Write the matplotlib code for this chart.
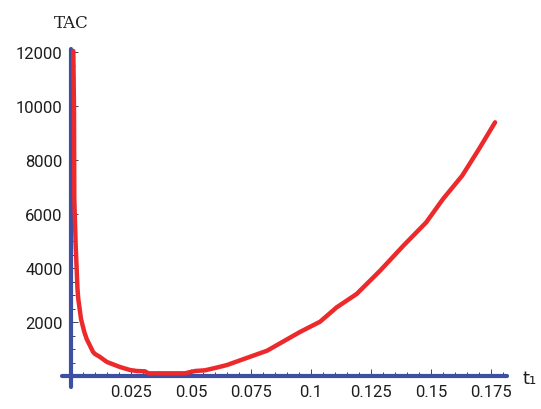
import matplotlib
matplotlib.use("Agg")
import matplotlib.pyplot as plt
import numpy as np

# TAC against t1
t1 = [0.00096, 0.00125, 0.00138, 0.00196, 0.00238, 0.0027, 0.00304, 0.00417,
      0.00554, 0.00654, 0.0092, 0.01, 0.0121, 0.0142, 0.015, 0.0204, 0.0246,
      0.0275, 0.0308, 0.0322, 0.0475, 0.0517, 0.0558, 0.06, 0.065, 0.0817,
      0.0954, 0.1038, 0.1107, 0.119, 0.1288, 0.1385, 0.148, 0.155, 0.163,
      0.170, 0.1767]
tac = [12040, 9890, 6560, 4815, 3926, 3222, 2852, 2111,
       1630, 1370, 889, 815, 704, 567, 518, 333, 222,
       185, 174, 100, 100, 185, 211, 296, 407, 937,
       1630, 2012, 2543, 3037, 3901, 4827, 5690, 6555, 7420,
       8408, 9396]

xticks = [0.025, 0.05, 0.075, 0.1, 0.125, 0.15, 0.175]
xlabels = ["0.025", "0.05", "0.075", "0.1", "0.125", "0.15", "0.175"]
yticks = [2000, 4000, 6000, 8000, 10000, 12000]

blue = "#3d4fa2"
red = "#ec2a2c"
txt = "#1e1e1e"

plt.rcParams["font.family"] = ["Roboto", "DejaVu Sans"]

fig = plt.figure(figsize=(5.41, 4.10), dpi=100)
ax = fig.add_axes([0, 0, 1, 1])
ax.set_xlim(-71 / 2400, 470 / 2400)
ax.set_ylim(-33 * 2000 / 54, 377 * 2000 / 54)
ax.patch.set_visible(False)

ax.plot(t1, tac, color=red, lw=3.2, zorder=3, solid_joinstyle="round",
        solid_capstyle="round")

for s in ["top", "right"]:
    ax.spines[s].set_visible(False)
ax.spines["left"].set_position(("data", 0))
ax.spines["bottom"].set_position(("data", 0))
ax.spines["left"].set_bounds(-400, 12100)
ax.spines["bottom"].set_bounds(-0.0038, 0.1817)
for s in ["left", "bottom"]:
    ax.spines[s].set_color(blue)
    ax.spines[s].set_linewidth(3.0)
    ax.spines[s].set_capstyle("round")

ax.set_xticks(xticks)
ax.set_xticklabels(xlabels)
ax.set_xticks(np.arange(0.005, 0.181, 0.005), minor=True)
ax.set_yticks(yticks)
ax.set_yticklabels([str(v) for v in yticks])
ax.set_yticks(np.arange(500, 12001, 500), minor=True)
ax.tick_params(which="both", direction="in", color="#444444", width=0.7,
               labelcolor=txt, labelsize=12)
ax.tick_params(which="major", length=5, pad=6)
ax.tick_params(which="minor", length=3)

ax.text(0, 13080, "TAC", ha="center", va="center", fontsize=12, color=txt,
        family="DejaVu Serif")
ax.text(0.1912, -80, "t₁", ha="center", va="center", fontsize=13, color=txt,
        family="DejaVu Sans")

fig.savefig("out.png", dpi=100)
